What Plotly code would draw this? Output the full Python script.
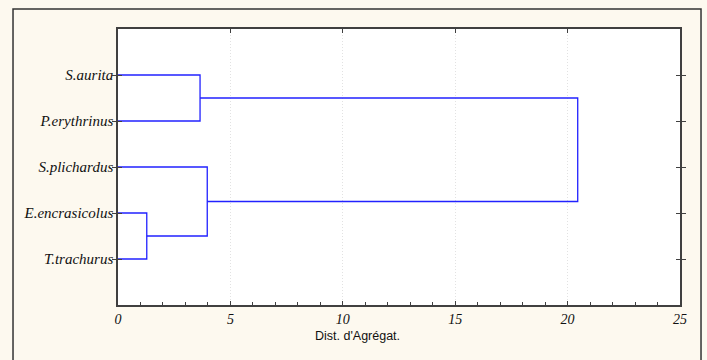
import plotly.graph_objects as go

# Data
leaf_labels = ["S.aurita", "P.erythrinus", "S.plichardus", "E.encrasicolus", "T.trachurus"]
leaf_pos = [5, 4, 3, 2, 1]
# merges: child_a, child_b, distance (new node ids start at 5)
merge_a = [3, 2, 0, 7]
merge_b = [4, 5, 1, 6]
merge_h = [1.28, 3.97, 3.65, 20.45]
x_ticks = [0, 5, 10, 15, 20, 25]

node_y = {i: p for i, p in enumerate(leaf_pos)}
node_h = {i: 0.0 for i in range(len(leaf_labels))}

fig = go.Figure()
line_color = "#2222ff"
for k, (a, b, h) in enumerate(zip(merge_a, merge_b, merge_h)):
    nid = len(leaf_labels) + k
    xs = [node_h[a], h, h, node_h[b]]
    ys = [node_y[a], node_y[a], node_y[b], node_y[b]]
    fig.add_trace(go.Scatter(x=xs, y=ys, mode="lines",
                             line=dict(color=line_color, width=1.3),
                             hoverinfo="skip", showlegend=False))
    node_y[nid] = (node_y[a] + node_y[b]) / 2
    node_h[nid] = h

serif = "Liberation Serif"
fig.update_layout(
    width=707, height=360,
    margin=dict(l=118, r=27, t=29, b=55),
    paper_bgcolor="#fdf9ef",
    plot_bgcolor="#ffffff",
    showlegend=False,
    font=dict(family=serif),
    xaxis=dict(range=[0, 25], tickvals=x_ticks, ticktext=[str(v) for v in x_ticks],
               tickfont=dict(family=serif, size=14, color="#111", style="italic"),
               ticks="inside", ticklen=4, tickcolor="#404040",
               minor=dict(dtick=1, ticks="inside", ticklen=3, tickcolor="#404040", showgrid=False),
               showgrid=True, gridcolor="#e2e2e2", griddash="1px,2px", gridwidth=1,
               showline=True, linecolor="#404040", linewidth=1.5, mirror=True,
               zeroline=False, fixedrange=True),
    xaxis2=dict(range=[0, 25], overlaying="x", side="top", tickvals=x_ticks,
                showticklabels=False, ticks="inside", ticklen=4, tickcolor="#404040",
                showgrid=False, zeroline=False, showline=False),
    yaxis=dict(range=[0, 6], tickvals=leaf_pos, ticktext=leaf_labels,
               tickfont=dict(family=serif, size=15, color="#111", style="italic"),
               ticks="inside", ticklen=4, tickcolor="#404040",
               showgrid=False, zeroline=False,
               showline=True, linecolor="#404040", linewidth=1.5, mirror="allticks",
               fixedrange=True),
    shapes=[dict(type="rect", xref="paper", yref="paper",
                 x0=-0.1868, x1=1.0374, y0=-0.25, y1=1.0725,
                 line=dict(color="#333333", width=1.5), layer="below")],
    annotations=[dict(text="Dist. d'Agrégat.", xref="paper", yref="paper",
                      x=0.427, y=-0.113, yanchor="middle", xanchor="center", showarrow=False,
                      font=dict(family="Liberation Sans", size=12.5, color="#111"))],
)
# dummy trace to activate top axis
fig.add_trace(go.Scatter(x=[0], y=[0], xaxis="x2", mode="markers",
                         marker=dict(opacity=0), hoverinfo="skip", showlegend=False))

fig.write_html("out.html")
